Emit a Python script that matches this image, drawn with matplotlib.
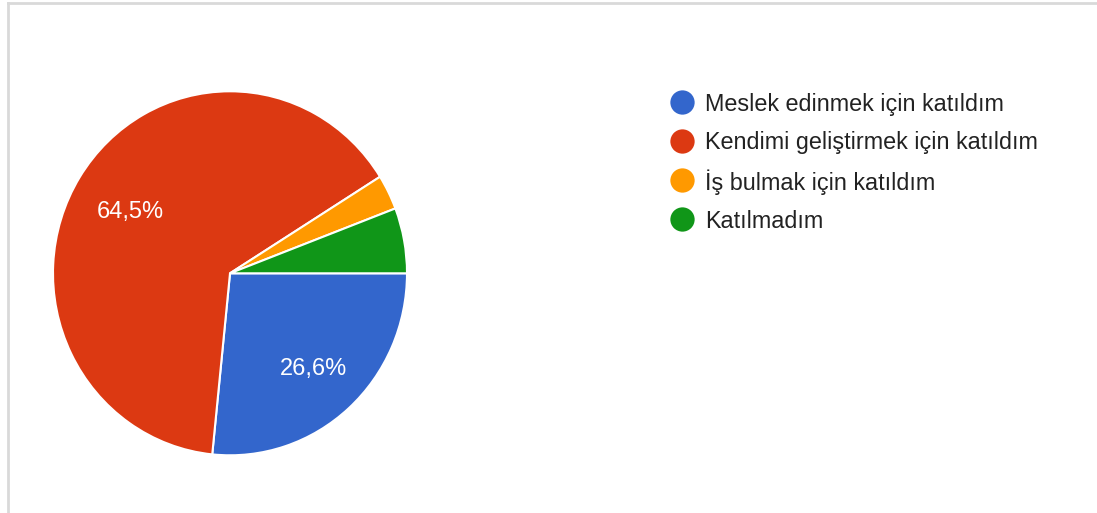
import matplotlib
matplotlib.use("Agg")
import matplotlib.pyplot as plt
from matplotlib.lines import Line2D

categories = ["Meslek edinmek için katıldım", "Kendimi geliştirmek için katıldım",
              "İş bulmak için katıldım", "Katılmadım"]
values = [26.6, 64.5, 3.1, 5.8]
colors = ["#3366cc", "#dc3912", "#ff9900", "#109618"]

plt.rcParams['font.family'] = ['Liberation Sans', 'DejaVu Sans']

W, H = 1097, 513
fig = plt.figure(figsize=(W / 100, H / 100), dpi=100)

# frame lines of the screenshot
fig.add_artist(Line2D([7.5 / W, 1], [1 - 2.5 / H, 1 - 2.5 / H], transform=fig.transFigure,
                      color="#d9d9d9", lw=2))
fig.add_artist(Line2D([7.5 / W, 7.5 / W], [0, 1 - 2.5 / H], transform=fig.transFigure,
                      color="#d9d9d9", lw=2))

cx, cy, rx, ry = 230, 273.3, 177, 182
ax = fig.add_axes([(cx - rx) / W, (H - cy - ry) / H, 2 * rx / W, 2 * ry / H])

def fmt(p):
    return (f"{p:.1f}%".replace(".", ",")) if p > 10 else ""

wedges, texts, autotexts = ax.pie(values, colors=colors, startangle=0, counterclock=False,
                                  autopct=fmt, pctdistance=0.68,
                                  wedgeprops=dict(edgecolor="white", linewidth=1.5),
                                  textprops=dict(color="white", fontsize=17))
for t in autotexts:
    x, y = t.get_position()
    t.set_position((x + 0.013, y - 0.024))
ax.set_xlim(-1, 1)
ax.set_ylim(-1, 1)
ax.set_aspect("auto")
ax.axis("off")

# legend
lx, tx = 682, 705
ys = [102, 141, 180, 219]
for lab, col, y in zip(categories, colors, ys):
    fig.add_artist(Line2D([lx / W], [1 - y / H], transform=fig.transFigure, marker="o",
                          markersize=17.5, color=col, markeredgewidth=0, linestyle="none"))
    fig.text(tx / W, 1 - (y + 2) / H, lab, fontsize=16.8, color="#222222", va="center", ha="left")

fig.savefig("out.png", dpi=100)
